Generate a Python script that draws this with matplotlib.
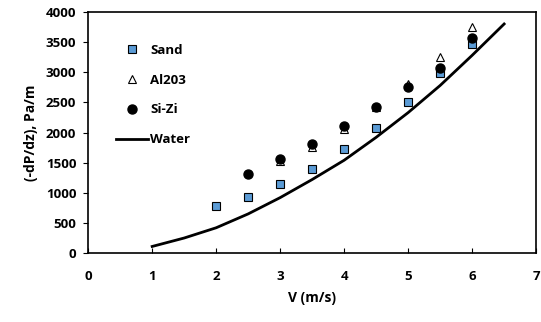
import matplotlib.pyplot as plt
import numpy as np

plt.rcParams['font.family'] = ['Open Sans', 'DejaVu Sans']
plt.rcParams['font.weight'] = 'bold'

v_sand = [2, 2.5, 3, 3.5, 4, 4.5, 5, 5.5, 6]
dp_sand = [780, 930, 1150, 1400, 1720, 2080, 2500, 2980, 3460]

v_al = [3, 3.5, 4, 4.5, 5, 5.5, 6]
dp_al = [1520, 1760, 2050, 2420, 2800, 3250, 3750]

v_sizi = [2.5, 3, 3.5, 4, 4.5, 5, 5.5, 6]
dp_sizi = [1320, 1560, 1810, 2100, 2420, 2750, 3070, 3560]

v_water = [1, 1.5, 2, 2.5, 3, 3.5, 4, 4.5, 5, 5.5, 6, 6.5]
dp_water = [110, 250, 420, 650, 920, 1220, 1540, 1920, 2330, 2780, 3280, 3800]

fig = plt.figure(figsize=(5.41, 3.22), dpi=100)
ax = fig.add_axes([0.163, 0.214, 0.828, 0.749])

ax.plot(v_sand, dp_sand, 's', color='#5b9bd5', markeredgecolor='black',
        markeredgewidth=0.8, markersize=6, label='Sand')
ax.plot(v_al, dp_al, '^', color='white', markeredgecolor='black',
        markeredgewidth=0.8, markersize=6, label='Al203')
ax.plot(v_sizi, dp_sizi, 'o', color='black', markersize=6.5, label='Si-Zi')
ax.plot(v_water, dp_water, '-', color='black', linewidth=2, label='Water')

ax.set_xlim(0, 7)
ax.set_ylim(0, 4000)
ax.set_xticks(np.arange(0, 8, 1))
ax.set_yticks(np.arange(0, 4001, 500))
ax.tick_params(axis='x', direction='in', labelsize=9.5, pad=12)
ax.tick_params(axis='y', direction='out', labelsize=9.5, pad=5)
for s in ax.spines.values():
    s.set_linewidth(1.2)

ax.set_xlabel('V (m/s)', fontsize=10, fontweight='bold', labelpad=6)
ax.set_ylabel('(-dP/dz), Pa/m', fontsize=10, fontweight='bold', labelpad=6)

ax.legend(loc='upper left', frameon=False, fontsize=9.5, handlelength=2.4,
          handletextpad=0.2, labelspacing=1.28, borderaxespad=0.0,
          bbox_to_anchor=(0.05, 0.89))

fig.savefig('out.png', dpi=100)
